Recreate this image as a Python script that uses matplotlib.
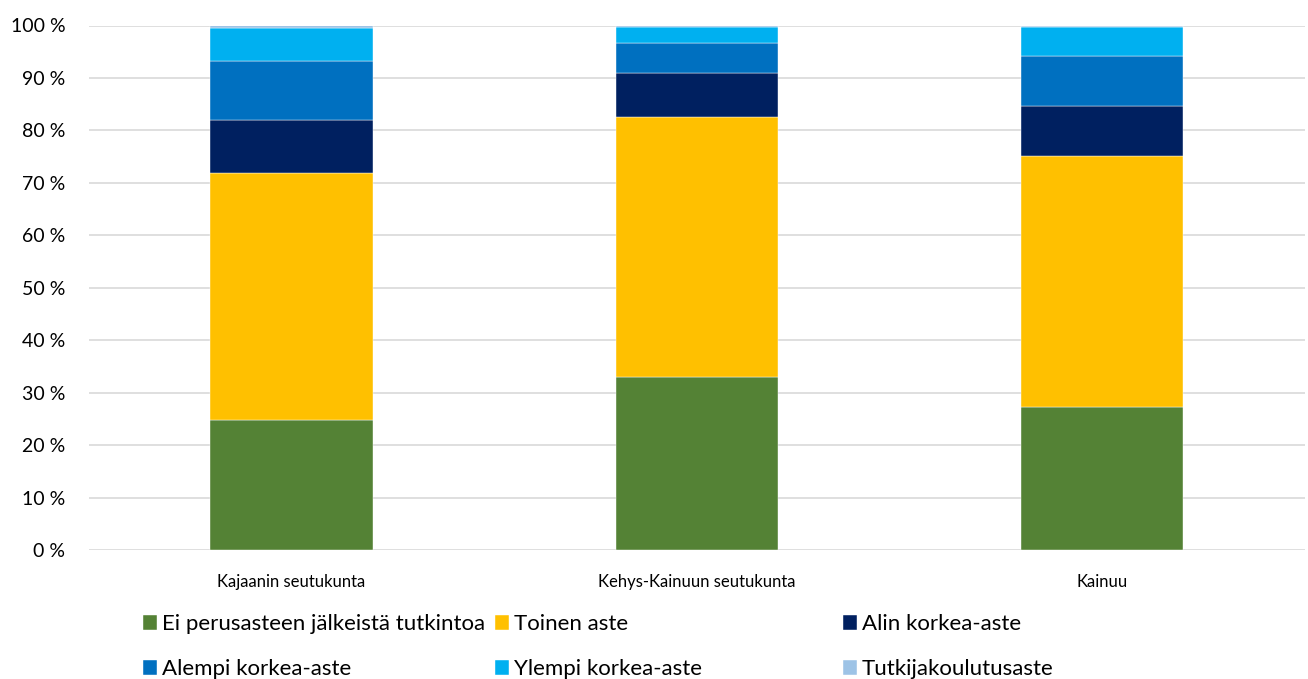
import matplotlib
matplotlib.use("Agg")
import matplotlib.pyplot as plt
import numpy as np

categories = ["Kajaanin seutukunta", "Kehys-Kainuun seutukunta", "Kainuu"]
series_names = ["Ei perusasteen jälkeistä tutkintoa", "Toinen aste", "Alin korkea-aste",
                "Alempi korkea-aste", "Ylempi korkea-aste", "Tutkijakoulutusaste"]
ei_perus = [24.8, 33.0, 27.3]
toinen = [47.1, 49.5, 47.8]
alin = [10.0, 8.4, 9.6]
alempi = [11.4, 5.7, 9.5]
ylempi = [6.3, 3.2, 5.5]
tutkija = [0.4, 0.2, 0.3]
yticks = [0, 10, 20, 30, 40, 50, 60, 70, 80, 90, 100]
ytick_labels = [f"{v} %" for v in yticks]

colors = ["#548235", "#FFC000", "#002060", "#0070C0", "#00B0F0", "#9DC3E6"]
series = [ei_perus, toinen, alin, alempi, ylempi, tutkija]

plt.rcParams['font.family'] = ['Lato', 'DejaVu Sans']

fig = plt.figure(figsize=(13.08, 6.79), dpi=100)
ax = fig.add_axes([88.75/1308, 1 - 550/679, (1305 - 88.75)/1308, (550 - 25.5)/679])

x = np.arange(len(categories))
bottom = np.zeros(len(categories))
handles = []
for name, vals, col in zip(series_names, series, colors):
    b = ax.bar(x, vals, 0.40, bottom=bottom, color=col, label=name, zorder=3,
               edgecolor="white", linewidth=0.3)
    handles.append(b)
    bottom += np.array(vals)

ax.set_xlim(-0.5, 2.5)
ax.set_ylim(0, 100)
ax.set_yticks(yticks)
ax.set_yticklabels(ytick_labels, fontsize=14)
ax.set_xticks(x)
ax.set_xticklabels(categories, fontsize=12)
ax.tick_params(axis='both', length=0)
ax.tick_params(axis='y', pad=17)
ax.tick_params(axis='x', pad=17)
ax.grid(axis='y', color="#D9D9D9", linewidth=1.2, zorder=0)
for s in ax.spines.values():
    s.set_visible(False)

cols = [[0, 3], [1, 4], [2, 5]]
xpos = [143, 495, 843]
for c, xp in zip(cols, xpos):
    fig.legend(handles=[handles[i] for i in c], labels=[series_names[i] for i in c],
               loc='upper left', bbox_to_anchor=(xp / 1308, 1 - 614 / 679),
               frameon=False, fontsize=16, handlelength=0.65, handleheight=0.65,
               handletextpad=0.2, labelspacing=1.13, borderpad=0, borderaxespad=0)

fig.savefig("out.png", dpi=100)
